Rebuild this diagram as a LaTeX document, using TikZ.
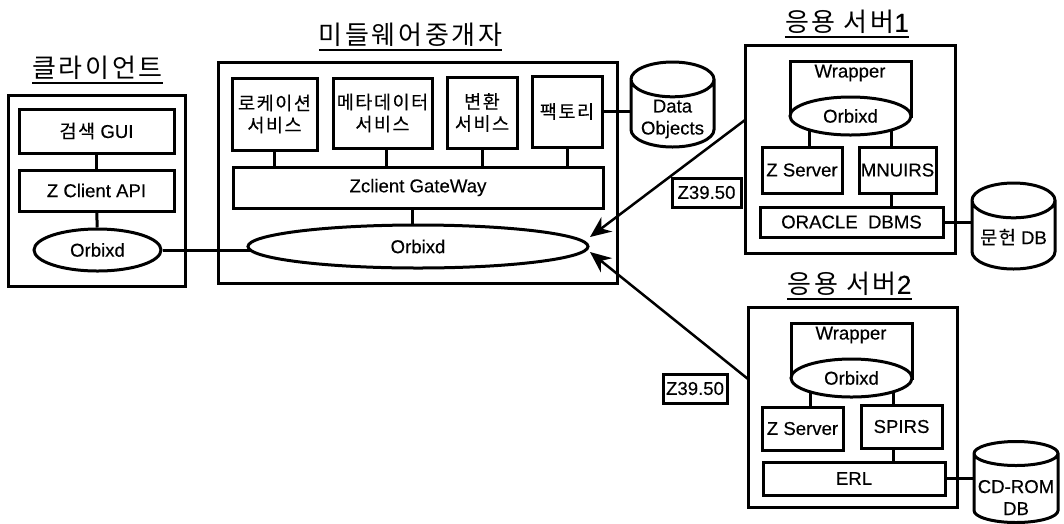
\documentclass[tikz,border=0pt]{standalone}
\usepackage{fontspec}
\setmainfont[FakeBold=0.3]{Liberation Sans}
\newfontfamily\kor[LetterSpace=8,FakeBold=0.2]{Noto Sans CJK KR}
\newfontfamily\kortl[LetterSpace=10]{Noto Sans CJK KR}
\usetikzlibrary{shapes.geometric,arrows.meta,backgrounds}
\tikzset{blk/.style={rectangle,draw=black,fill=white,line width=3pt,inner sep=0pt,align=center,font=\fontsize{18.6}{22}\selectfont}}
\tikzset{orb/.style={ellipse,draw=black,fill=white,line width=3pt,inner sep=0pt,font=\fontsize{18.6}{22}\selectfont}}
\tikzset{store/.style={cylinder,shape border rotate=90,anchor=shape center,draw=black,fill=white,line width=3pt,inner sep=0pt,aspect=#1}}
\tikzset{txt/.style={inner sep=0pt,align=center,font=\fontsize{18.6}{22}\selectfont}}
\tikzset{ttl/.style={inner sep=0pt,anchor=south,text height=22pt,text depth=5pt,font=\fontsize{26}{30}\selectfont}}
\tikzset{link/.style={line width=3pt}}
\tikzset{uline/.style={line width=1.6pt}}
\tikzset{flow/.style={line width=2.5pt,-{Stealth[length=21pt,width=18pt]}}}
\newcommand{\capw}{\rule{60pt}{0pt}}
\begin{document}
\begin{tikzpicture}[x=1pt,y=-1pt]
\useasboundingbox (0,0) rectangle (1064,523);
\node (cltbox) at (96.5,191) [blk,fill=none,minimum width=177pt,minimum height=191pt] {};
\node (midbox) at (417.5,172.5) [blk,fill=none,minimum width=399pt,minimum height=221pt] {};
\node (srva) at (850,149) [blk,fill=none,minimum width=210pt,minimum height=208pt] {};
\node (srvb) at (852.5,407) [blk,fill=none,minimum width=209pt,minimum height=200pt] {};
\node (cltttl) at (97.5,83) [ttl] {\kortl 클라이언트};
\node (midttl) at (410.5,50) [ttl] {\kortl 미들웨어중개자};
\node (srvattl) at (847,37) [ttl] {\kortl 응용 서버{\normalfont 1}};
\node (srvbttl) at (849.5,299) [ttl] {\kortl 응용 서버{\normalfont 2}};
\node (gui) at (96.5,131) [blk,minimum width=155pt,minimum height=44pt] {{\kor 검색} GUI};
\node (api) at (96.5,190.5) [blk,minimum width=155pt,minimum height=41pt] {Z Client API};
\node (orbc) at (97.5,250) [orb,minimum width=127pt,minimum height=42pt] {Orbixd};
\node (loc) at (274.5,114) [blk,minimum width=85pt,minimum height=72pt] {\kor 로케이션\\\kor 서비스};
\node (meta) at (382.5,113) [blk,minimum width=99pt,minimum height=70pt] {\kor 메타데이터\\\kor 서비스};
\node (conv) at (482,112.5) [blk,minimum width=70pt,minimum height=71pt] {\kor 변환\\\kor 서비스};
\node (fact) at (567,111.5) [blk,minimum width=70pt,minimum height=71pt] {\kor 팩토리};
\node (gate) at (418,187.5) [blk,minimum width=370pt,minimum height=41pt] {Zclient GateWay};
\node (orbm) at (418,246.5) [orb,minimum width=340pt,minimum height=43pt] {Orbixd};
\node (dobj) at (672.5,104.5) [store=0.58,minimum width=83pt,minimum height=85pt] {\capw};
\node (dobjtxt) at (672.5,119) [txt] {Data\\Objects};
\node (wrapa) at (850.5,88.5) [blk,minimum width=121pt,minimum height=55pt] {};
\node (wrapatxt) at (850,73) [txt] {Wrapper};
\node (orba) at (850.5,116) [orb,minimum width=121pt,minimum height=38pt] {Orbixd};
\node (zsra) at (802,170) [blk,minimum width=80pt,minimum height=46pt] {Z Server};
\node (mnu) at (897.5,170) [blk,minimum width=77pt,minimum height=46pt] {MNUIRS};
\node (ora) at (851.5,222) [blk,minimum width=183pt,minimum height=30pt] {ORACLE\ \ DBMS};
\node (lib) at (1013.5,226) [store=0.58,minimum width=83pt,minimum height=86pt] {\capw};
\node (libtxt) at (1013.5,237) [txt] {{\kor 문헌} DB};
\node (wrapb) at (851.5,350.5) [blk,minimum width=121pt,minimum height=55pt] {};
\node (wrapbtxt) at (851,335) [txt] {Wrapper};
\node (orbb) at (851.5,378) [orb,minimum width=121pt,minimum height=38pt] {Orbixd};
\node (zsrb) at (802.5,428.5) [blk,minimum width=81pt,minimum height=43pt] {Z Server};
\node (spi) at (901.5,426.5) [blk,minimum width=81pt,minimum height=43pt] {SPIRS};
\node (erl) at (854,478.5) [blk,minimum width=182pt,minimum height=33pt] {ERL};
\node (cdr) at (1016,482) [store=0.4,minimum width=84pt,minimum height=81pt] {\capw};
\node (cdrtxt) at (1016,497.5) [txt] {CD-ROM\\DB};
\node (zra) at (706.5,192.5) [blk,minimum width=69pt,minimum height=29pt] {Z39.50};
\node (zrb) at (695,388.5) [blk,minimum width=64pt,minimum height=29pt] {Z39.50};
\coordinate (porta) at (745,120);
\coordinate (portb) at (748,379);
\coordinate (tipa) at (590,237);
\coordinate (tipb) at (590,252);
\begin{scope}[on background layer]
\draw[uline] (cltttl.south west)--(cltttl.south east);
\draw[uline] (midttl.south west)--(midttl.south east);
\draw[uline] (srvattl.south west)--(srvattl.south east);
\draw[uline] (srvbttl.south west)--(srvbttl.south east);
\draw[link] (gui)--(api);
\draw[link] (api)--(orbc);
\draw[link] (orbc.east)--(orbc.east -| orbm.center);
\draw[link] (loc.south)--(loc.south |- gate.north);
\draw[link] ([xshift=4pt]meta.south)--([xshift=4pt]meta.south |- gate.north);
\draw[link] (conv.south)--(conv.south |- gate.north);
\draw[link] (fact.south)--(fact.south |- gate.north);
\draw[link] ([xshift=-6pt]gate.south)--([xshift=-6pt]gate.south |- orbm.center);
\draw[link] (fact.east)--(fact.east -| dobj.center);
\draw[link] ([xshift=7pt]zsra.north)--([xshift=7pt]zsra.north |- orba.center);
\draw[link] ([xshift=-6pt]mnu.north)--([xshift=-6pt]mnu.north |- orba.center);
\draw[link] ([xshift=-6pt]mnu.south)--([xshift=-6pt]mnu.south |- ora.north);
\draw[link] (ora.east)--(ora.east -| lib.center);
\draw[link] ([xshift=8pt]zsrb.north)--([xshift=8pt]zsrb.north |- orbb.center);
\draw[link] ([xshift=-8pt]spi.north)--([xshift=-8pt]spi.north |- orbb.center);
\draw[link] ([xshift=-8pt]spi.south)--([xshift=-8pt]spi.south |- erl.north);
\draw[link] (erl.east)--(erl.east -| cdr.center);
\end{scope}
\draw[flow] (porta)--(tipa);
\draw[flow] (portb)--(tipb);
\end{tikzpicture}
\end{document}
